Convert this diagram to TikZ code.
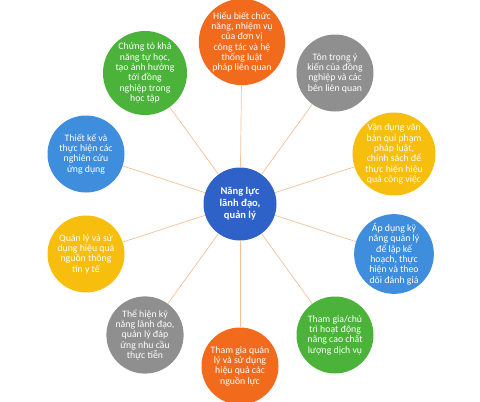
\documentclass[tikz,border=0pt]{standalone}
\usepackage{fontspec}
\setmainfont{Carlito}
\definecolor{corange}{HTML}{F26B1D}
\definecolor{cgray}{HTML}{8F8F8F}
\definecolor{cyellow}{HTML}{F8BE0E}
\definecolor{cblue}{HTML}{3F8EDD}
\definecolor{cgreen}{HTML}{4BB33A}
\definecolor{ccenter}{HTML}{2F62C8}
\definecolor{cline}{HTML}{F5C09A}
\begin{document}
\begin{tikzpicture}[x=1pt,y=-1pt,
  bubble/.style={circle, minimum size=77pt, inner sep=0pt, text=white, align=center,
     font=\fontsize{9.8}{10.3}\selectfont},
  hub/.style={circle, minimum size=73pt, inner sep=0pt, text=white, align=center,
     fill=ccenter, font=\bfseries\fontsize{10.5}{12}\selectfont},
  spoke/.style={draw=cline, line width=0.7pt}]
\useasboundingbox (0,0) rectangle (480,402);
\node[hub] (c) at (240,204) {Năng lực\\lãnh đạo,\\quản lý};
\node[bubble, fill=corange] (n1) at (242,42) {Hiểu biết chức\\năng, nhiệm vụ\\của đơn vị\\công tác và hệ\\thống luật\\pháp liên quan};
\node[bubble, fill=cgray] (n2) at (335,73) {Tôn trọng ý\\kiến của đồng\\nghiệp và các\\bên liên quan};
\node[bubble, fill=cyellow] (n3) at (394,154) {Vận dụng văn\\bản qui phạm\\pháp luật,\\chính sách để\\thực hiện hiệu\\quả công việc};
\node[bubble, fill=cblue] (n4) at (394,254) {Áp dụng kỹ\\năng quản lý\\để lập kế\\hoạch, thực\\hiện và theo\\dõi đánh giá};
\node[bubble, fill=cgreen] (n5) at (335,335) {Tham gia/chủ\\trì hoạt động\\nâng cao chất\\lượng dịch vụ};
\node[bubble, fill=corange] (n6) at (240,366) {Tham gia quản\\lý và sử dụng\\hiệu quả các\\nguồn lực};
\node[bubble, fill=cgray] (n7) at (145,335) {Thể hiện kỹ\\năng lãnh đạo,\\quản lý đáp\\ứng nhu cầu\\thực tiễn};
\node[bubble, fill=cyellow] (n8) at (86,254) {Quản lý và sử\\dụng hiệu quả\\nguồn thông\\tin y tế};
\node[bubble, fill=cblue] (n9) at (86,154) {Thiết kế và\\thực hiện các\\nghiên cứu\\ứng dụng};
\node[bubble, fill=cgreen] (n10) at (145,73) {Chứng tỏ khả\\năng tự học,\\tạo ảnh hưởng\\tới đồng\\nghiệp trong\\học tập};
\foreach \i in {1,...,10} {\draw[spoke] (c) -- (n\i);}
\end{tikzpicture}
\end{document}
